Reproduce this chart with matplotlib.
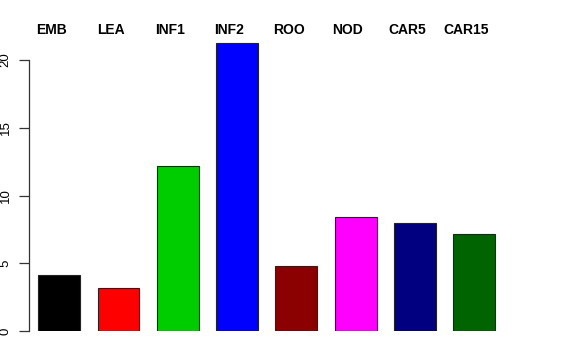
import matplotlib.pyplot as plt
from matplotlib import transforms

# data
categories = ["EMB", "LEA", "INF1", "INF2", "ROO", "NOD", "CAR5", "CAR15"]
values = [4.15, 3.17, 12.15, 21.25, 4.8, 8.4, 7.99, 7.18]
colors = ["#000000", "#FF0000", "#00CD00", "#0000FF",
          "#8B0000", "#FF00FF", "#000080", "#006400"]
yticks = [0, 5, 10, 15, 20]

plt.rcParams['font.family'] = ['Liberation Sans', 'DejaVu Sans']

W, H = 576, 360
fig = plt.figure(figsize=(W / 100, H / 100), dpi=100)

# axes placed in pixel terms, then turned into figure fractions
px_per_unit = 13.55
ymax = 21.5
left_px, right_px = 29, 520
bottom_px = 331
top_px = bottom_px - ymax * px_per_unit
ax = fig.add_axes([left_px / W, (H - bottom_px) / H,
                   (right_px - left_px) / W, (bottom_px - top_px) / H])

x = list(range(len(categories)))
ax.bar(x, values, width=0.708, color=colors, edgecolor="#222222", linewidth=0.8)

spacing = 59.3
c0 = 59.2
ax.set_xlim((left_px - c0) / spacing, (right_px - c0) / spacing)
ax.set_ylim(0, ymax)

for s in ["top", "right", "bottom"]:
    ax.spines[s].set_visible(False)
ax.spines["left"].set_bounds(0, 20)
ax.spines["left"].set_color("#333333")
ax.spines["left"].set_linewidth(0.9)
ax.set_xticks([])
ax.set_yticks(yticks)
ax.set_yticklabels([str(t) for t in yticks], rotation=90, va="center", fontsize=9.5)
ax.tick_params(axis="y", length=7, width=0.9, color="#333333", pad=5.5)

# category labels over the bars
trans = transforms.blended_transform_factory(ax.transData, fig.transFigure)
for i, name in enumerate(categories):
    ax.text(i - 0.13, (H - 34) / H, name, transform=trans, ha="center",
            va="baseline", fontsize=10, fontweight="bold")

fig.savefig("out.png", dpi=100)
